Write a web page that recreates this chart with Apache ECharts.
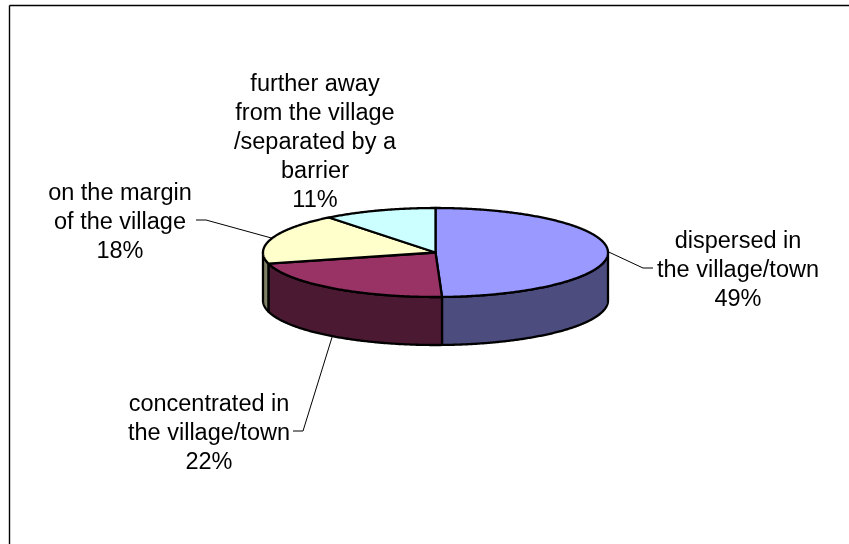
<!DOCTYPE html>
<html>
<head>
<meta charset="utf-8">
<style>html,body{margin:0;padding:0;background:#fff}#c{width:849px;height:544px}</style>
<script src="https://cdn.jsdelivr.net/npm/echarts@6/dist/echarts.min.js"></script>
</head>
<body>
<div id="c"></div>
<script>
// Data
const categories = [
  'dispersed in\nthe village/town',
  'concentrated in\nthe village/town',
  'on the margin\nof the village',
  'further away\nfrom the village\n/separated by a\nbarrier'
];
const values = [49.4, 21.6, 18.4, 10.6];
const topColors = ['#9999FF', '#993366', '#FFFFCC', '#CCFFFF'];
const sideColors = ['#4C4C7F', '#4C1933', '#7F7F66', '#667F7F'];

// Layout
const cx = 435.5, cy = 252.5, rx = 172.5, ry = 44.5, depth = 48;
const FONT = '"Liberation Sans", Arial, sans-serif';
const fontSize = 23.5, lineH = 29;
const labelPos = [[738, 300], [209, 463], [120, 252], [315, 201]]; // centre x, centre y of last line
const elbows = [
  [[653, 268], [643, 268]],
  [[293, 431], [303, 431]],
  [[196, 220], [206, 220]],
  null
];

const total = values.reduce((a, b) => a + b, 0);
function pt(deg, dy) {
  const t = deg * Math.PI / 180;
  return [cx + rx * Math.sin(t), cy - ry * Math.cos(t) + (dy || 0)];
}
function arc(a, b, dy) {
  const pts = [];
  const n = Math.max(2, Math.ceil(Math.abs(b - a) / 0.5));
  for (let i = 0; i <= n; i++) pts.push(pt(a + (b - a) * i / n, dy));
  return pts;
}

function renderItem(params, api) {
  const i = api.value(0), v = api.value(1);
  let before = 0;
  for (let k = 0; k < i; k++) before += values[k];
  const a0 = before / total * 360, a1 = (before + v) / total * 360;
  const stroke = { stroke: '#000', lineWidth: 2.3, lineJoin: 'round' };
  const children = [];

  // leader line to the slice's mid angle
  if (elbows[i]) {
    const mid = (a0 + a1) / 2;
    const onSide = mid > 90 && mid < 270 && Math.cos(mid * Math.PI / 180) < -0.5;
    children.push({
      type: 'polyline', z2: 1,
      shape: { points: [elbows[i][0], elbows[i][1], pt(mid, onSide ? depth : 0)] },
      style: { stroke: '#000', lineWidth: 1, fill: null }
    });
  }
  // visible wall
  const s0 = Math.max(a0, 90), s1 = Math.min(a1, 270);
  if (s1 > s0) {
    const pts = arc(s0, s1, 0).concat(arc(s1, s0, depth));
    children.push({
      type: 'polygon', z2: 2 + i, shape: { points: pts },
      style: Object.assign({ fill: sideColors[i] }, stroke)
    });
  }
  // top face
  children.push({
    type: 'polygon', z2: 10 + i,
    shape: { points: [[cx, cy]].concat(arc(a0, a1, 0)) },
    style: Object.assign({ fill: topColors[i] }, stroke)
  });
  // label
  const lines = categories[i].split('\n').concat([Math.round(v) + '%']);
  lines.forEach((line, k) => {
    children.push({
      type: 'text', z2: 30,
      style: {
        text: line, x: labelPos[i][0], y: labelPos[i][1] - (lines.length - 1 - k) * lineH,
        fill: '#000', font: fontSize + 'px ' + FONT,
        align: 'center', verticalAlign: 'middle'
      }
    });
  });
  return { type: 'group', children };
}

const chart = echarts.init(document.getElementById('c'), null, { renderer: 'canvas' });
chart.setOption({
  animation: false,
  backgroundColor: '#fff',
  graphic: [
    { type: 'line', shape: { x1: 9.5, y1: 5.5, x2: 849, y2: 5.5 }, style: { stroke: '#000', lineWidth: 1.4 } },
    { type: 'line', shape: { x1: 9.5, y1: 5.5, x2: 9.5, y2: 544 }, style: { stroke: '#000', lineWidth: 1.4 } }
  ],
  series: [{
    type: 'custom',
    coordinateSystem: 'none',
    silent: true,
    renderItem,
    data: values.map((v, i) => [i, v])
  }]
});
</script>
</body>
</html>
